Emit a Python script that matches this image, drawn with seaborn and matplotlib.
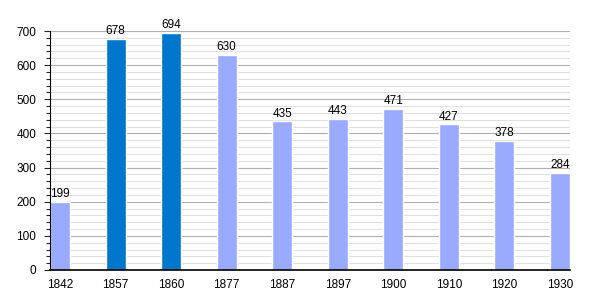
import matplotlib
matplotlib.use("Agg")
import matplotlib.pyplot as plt
import seaborn as sns
import pandas as pd
from matplotlib.ticker import MultipleLocator

years = ["1842", "1857", "1860", "1877", "1887", "1897", "1900", "1910", "1920", "1930"]
population = [199, 678, 694, 630, 435, 443, 471, 427, 378, 284]
highlight = [False, True, True, False, False, False, False, False, False, False]

df = pd.DataFrame({"year": years, "pop": population,
                   "kind": ["dark" if h else "light" for h in highlight]})

sns.set_style("white")
plt.rcParams['font.family'] = ['Liberation Sans', 'DejaVu Sans']

fig = plt.figure(figsize=(6, 3), dpi=100)
ax = fig.add_axes([50/600, 30/300, 520/600, 239/300])

palette = {"light": "#99AAFF", "dark": "#0077CC"}
sns.barplot(data=df, x="year", y="pop", hue="kind", palette=palette,
            dodge=False, width=0.36, legend=False, ax=ax, saturation=1)

ax.set_ylim(0, 700)
ax.set_xlim(-0.18, 9.18)
ax.yaxis.set_major_locator(MultipleLocator(100))
ax.yaxis.set_minor_locator(MultipleLocator(20))
ax.grid(which="minor", axis="y", color="#e0e0e0", linewidth=0.8)
ax.grid(which="major", axis="y", color="#b0b0b0", linewidth=0.8)
ax.set_axisbelow(True)
ax.tick_params(axis="y", which="both", left=True, length=4, width=0.8,
               labelsize=8.5, pad=6, labelcolor="black")
ax.tick_params(axis="y", which="minor", length=3)
ax.tick_params(axis="x", bottom=False, labelsize=8.5, pad=3, labelcolor="black")
for s in ["top", "right"]:
    ax.spines[s].set_visible(False)
ax.spines["left"].set_color("black")
ax.spines["bottom"].set_color("black")
ax.spines["bottom"].set_linewidth(1.2)
ax.set_xlabel("")
ax.set_ylabel("")

for i, v in enumerate(population):
    ax.text(i, v + 5, str(v), ha="center", va="bottom", fontsize=8.5, color="black")

fig.savefig("out.png", dpi=100)
